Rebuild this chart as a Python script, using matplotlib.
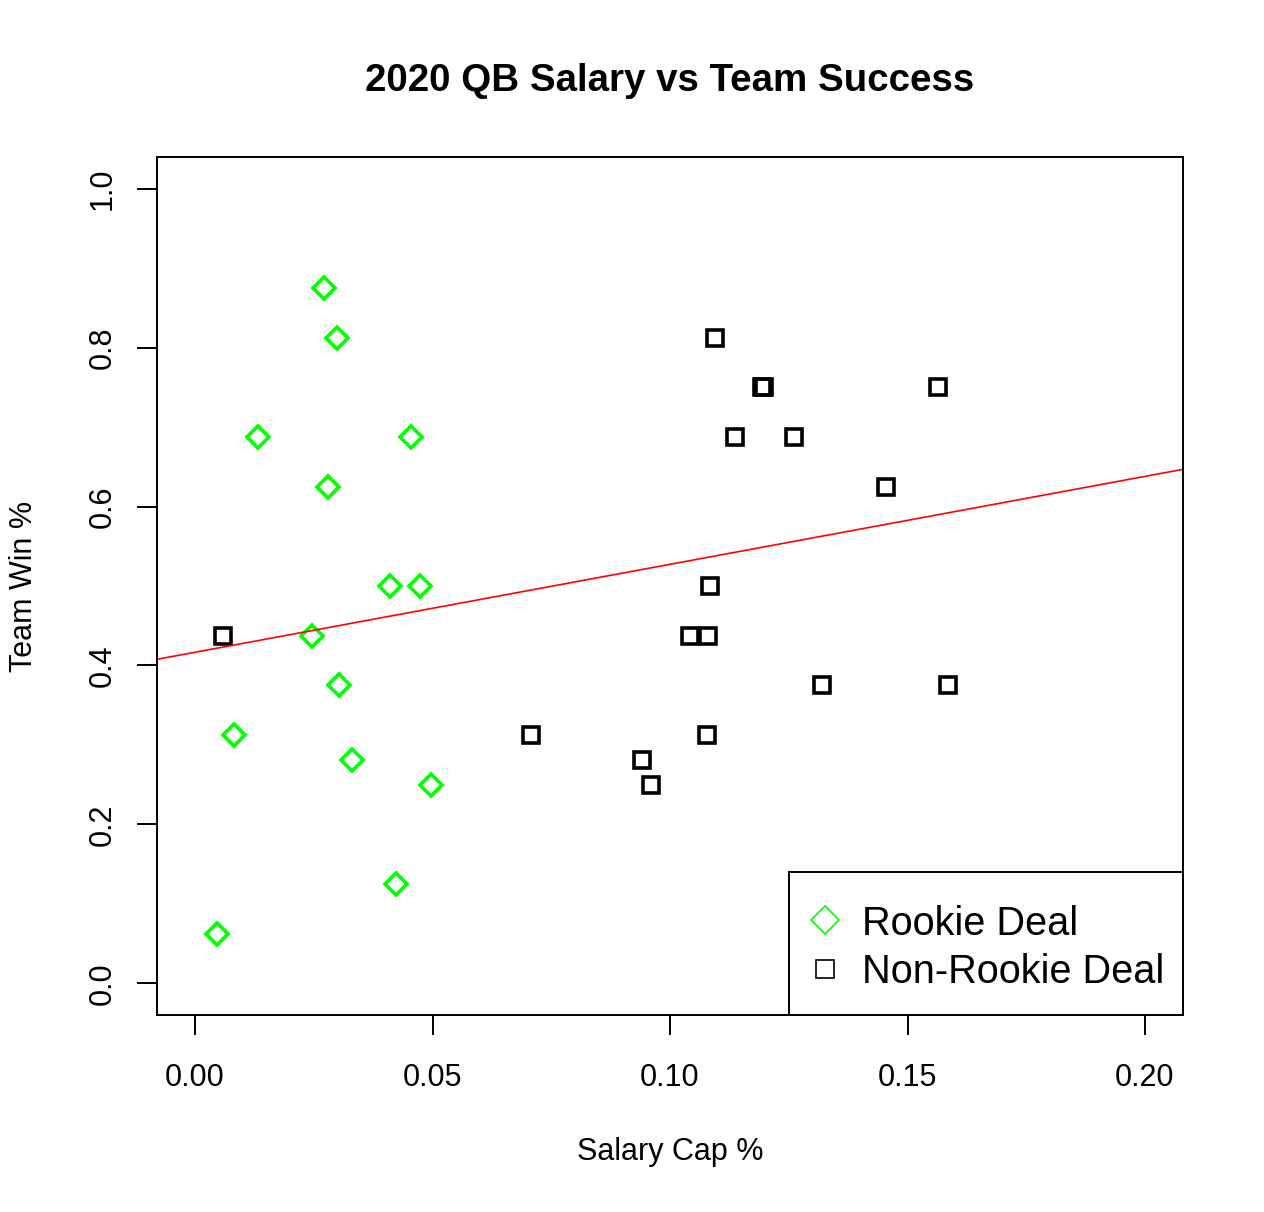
import matplotlib
matplotlib.use("Agg")
import matplotlib.pyplot as plt
import numpy as np
from matplotlib.lines import Line2D
from matplotlib.patches import Rectangle

plt.rcParams['font.family'] = ['Liberation Sans', 'DejaVu Sans']

rookie_x = [0.0046, 0.0082, 0.0133, 0.0246, 0.0271, 0.0280, 0.0299, 0.0303,
            0.0330, 0.0410, 0.0423, 0.0454, 0.0473, 0.0496]
rookie_y = [0.0625, 0.3125, 0.6875, 0.4375, 0.875, 0.625, 0.8125, 0.375,
            0.281, 0.5, 0.125, 0.6875, 0.5, 0.25]
vet_x = [0.0059, 0.0707, 0.0942, 0.0959, 0.1043, 0.1081, 0.1077, 0.1085,
         0.1094, 0.1136, 0.1193, 0.1198, 0.1262, 0.1319, 0.1455, 0.1565, 0.1586]
vet_y = [0.4375, 0.3125, 0.281, 0.25, 0.4375, 0.4375, 0.3125, 0.5,
         0.8125, 0.6875, 0.75, 0.75, 0.6875, 0.375, 0.625, 0.75, 0.375]
fit_intercept = 0.4166
fit_slope = 1.107

x_ticks = [0.00, 0.05, 0.10, 0.15, 0.20]
x_tick_labels = ["0.00", "0.05", "0.10", "0.15", "0.20"]
y_ticks = [0.0, 0.2, 0.4, 0.6, 0.8, 1.0]
y_tick_labels = ["0.0", "0.2", "0.4", "0.6", "0.8", "1.0"]
legend_labels = ["Rookie Deal", "Non-Rookie Deal"]

W, H = 1264, 1212
fig = plt.figure(figsize=(W / 100, H / 100), dpi=100)
ax = fig.add_axes([157 / W, 1 - 1015 / H, (1183 - 157) / W, (1015 - 157) / H])

green = "#00FF00"
ax.plot(rookie_x, rookie_y, linestyle="none", marker="D", markersize=11.5,
        markerfacecolor="none", markeredgecolor=green, markeredgewidth=2.6)
ax.plot(vet_x, vet_y, linestyle="none", marker="s", markersize=11,
        markerfacecolor="none", markeredgecolor="black", markeredgewidth=2.6)

xl = (-0.008, 0.208)
ax.set_xlim(*xl)
ax.set_ylim(-0.04, 1.04)
xs = np.array(xl)
ax.plot(xs, fit_intercept + fit_slope * xs, color="red", linewidth=1.2)

ax.set_xticks(x_ticks)
ax.set_xticklabels(x_tick_labels)
ax.set_yticks(y_ticks)
ax.set_yticklabels(y_tick_labels, rotation=90, va="center")
ax.tick_params(axis="both", direction="out", length=14.5, width=1.4,
               labelsize=22, color="black")
ax.tick_params(axis="x", pad=20)
ax.tick_params(axis="y", pad=14)
for s in ax.spines.values():
    s.set_linewidth(1.4)

fig.text(0.5 * (157 + 1183) / W, 1 - 1152 / H, "Salary Cap %",
         ha="center", va="center", fontsize=22)
fig.text(24 / W, 1 - 0.5 * (157 + 1015) / H, "Team Win %", rotation=90,
         ha="center", va="center", fontsize=22)
fig.text(0.5 * (157 + 1183) / W, 1 - 81 / H, "2020 QB Salary vs Team Success",
         ha="center", va="center", fontsize=27.7, fontweight="bold")

# legend drawn in figure pixel positions (R-style box)
def fx(px):
    return px / W

def fy(py):
    return 1 - py / H

fig.patches.append(Rectangle((fx(789), fy(1015)), fx(1183) - fx(789),
                             fy(872) - fy(1015), transform=fig.transFigure,
                             facecolor="white", edgecolor="black",
                             linewidth=1.4, zorder=5))
fig.lines.append(Line2D([fx(824.5)], [fy(920)], transform=fig.transFigure,
                        linestyle="none", marker="D", markersize=14,
                        markerfacecolor="none", markeredgecolor=green,
                        markeredgewidth=1.2, zorder=6))
fig.lines.append(Line2D([fx(824.5)], [fy(969)], transform=fig.transFigure,
                        linestyle="none", marker="s", markersize=12.5,
                        markerfacecolor="none", markeredgecolor="black",
                        markeredgewidth=1.2, zorder=6))
fig.text(fx(862), fy(935), legend_labels[0], ha="left", va="baseline",
         fontsize=28.6, zorder=6)
fig.text(fx(862), fy(983), legend_labels[1], ha="left", va="baseline",
         fontsize=28.6, zorder=6)

fig.savefig("out.png", dpi=100)
